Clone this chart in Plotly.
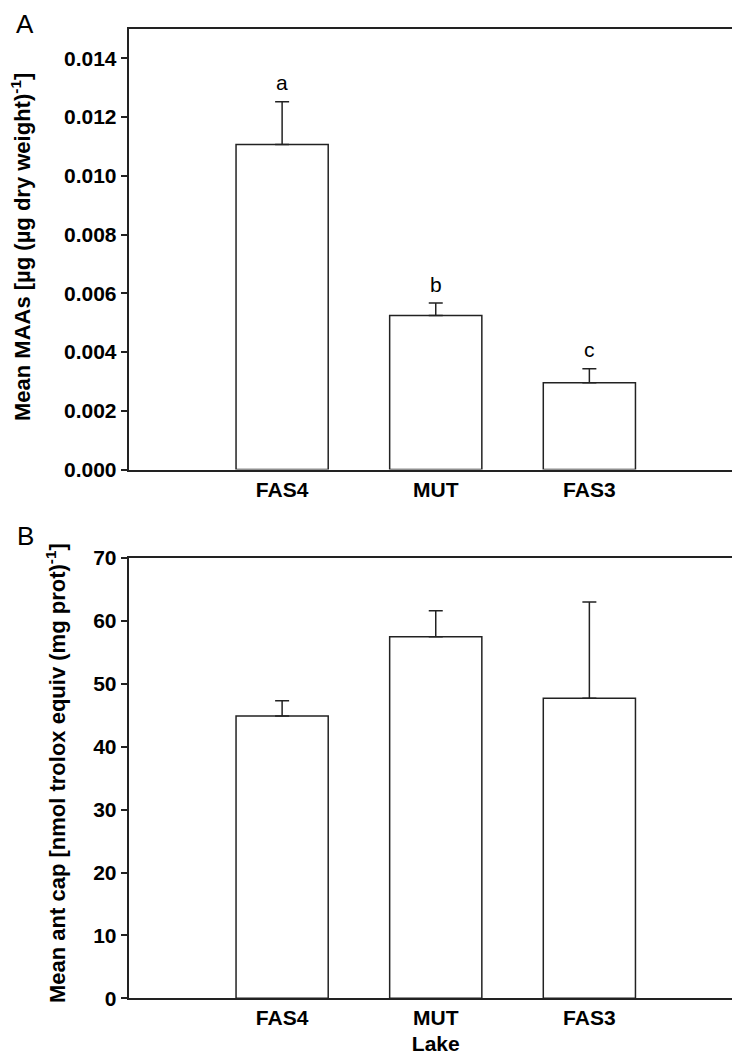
import plotly.graph_objects as go

# ---- data ----
lakes = ["FAS4", "MUT", "FAS3"]
maa_mean = [0.01107, 0.00525, 0.00296]
maa_err = [0.00145, 0.00042, 0.00047]
maa_letters = ["a", "b", "c"]
ant_mean = [44.9, 57.5, 47.7]
ant_err = [2.4, 4.1, 15.3]

W, H = 740, 1057
FONT = "Liberation Sans, Arial, sans-serif"

def px_x(p):
    return p / W

def px_y(p):
    return 1 - p / H

fig = go.Figure()

bar_style = dict(marker=dict(color="white", line=dict(color="#222222", width=1.5)), width=0.6)
err_style = dict(type="data", symmetric=False, color="#222222", thickness=1.5, width=7)

fig.add_trace(go.Bar(x=lakes, y=maa_mean, xaxis="x", yaxis="y",
                     error_y=dict(array=maa_err, arrayminus=[0] * 3, **err_style),
                     showlegend=False, **bar_style))
fig.add_trace(go.Bar(x=lakes, y=ant_mean, xaxis="x2", yaxis="y2",
                     error_y=dict(array=ant_err, arrayminus=[0] * 3, **err_style),
                     showlegend=False, **bar_style))

xdom = [px_x(120.5), px_x(735)]
axis_common = dict(showline=True, mirror=True, linecolor="#222222", linewidth=1.5,
                   showgrid=False, zeroline=False, automargin=False)
tickfont = dict(family=FONT, size=21, color="black", weight="bold")

fig.update_layout(
    width=W, height=H,
    margin=dict(l=0, r=0, t=0, b=0),
    template="none",
    plot_bgcolor="white", paper_bgcolor="white",
    bargap=0.4,
    xaxis=dict(domain=xdom, anchor="y", type="category", range=[-1, 3],
               ticks="", tickfont=tickfont, **axis_common),
    yaxis=dict(domain=[px_y(461.6), px_y(21)], anchor="x", range=[0, 0.015],
               tickvals=[0, 0.002, 0.004, 0.006, 0.008, 0.010, 0.012, 0.014],
               tickformat=".3f", ticks="outside", ticklen=6, tickwidth=1.5,
               tickcolor="#222222", tickfont=tickfont, **axis_common),
    xaxis2=dict(domain=xdom, anchor="y2", type="category", range=[-1, 3],
                ticks="", tickfont=tickfont,
                title=dict(text="Lake", font=dict(family=FONT, size=21, color="black", weight="bold"),
                           standoff=8),
                **axis_common),
    yaxis2=dict(domain=[px_y(990.3), px_y(550)], anchor="x2", range=[0, 70],
                tickvals=[0, 10, 20, 30, 40, 50, 60, 70],
                ticks="outside", ticklen=6, tickwidth=1.5,
                tickcolor="#222222", tickfont=tickfont, **axis_common),
)

annotations = []
# significance letters
for lake, m, e, lt in zip(lakes, maa_mean, maa_err, maa_letters):
    annotations.append(dict(x=lake, y=m + e, xref="x", yref="y", text=lt, showarrow=False,
                            yanchor="middle", yshift=19,
                            font=dict(family=FONT, size=21, color="black")))
# panel labels
annotations.append(dict(x=px_x(17), y=px_y(16), xref="paper", yref="paper", text="A",
                        showarrow=False, xanchor="center", yanchor="middle",
                        font=dict(family=FONT, size=26, color="black")))
annotations.append(dict(x=px_x(17), y=px_y(528), xref="paper", yref="paper", text="B",
                        showarrow=False, xanchor="center", yanchor="middle",
                        font=dict(family=FONT, size=26, color="black")))
# y titles
ytfont = dict(family=FONT, size=22, color="black", weight="bold")
annotations.append(dict(x=px_x(13), y=px_y(239), xref="paper", yref="paper",
                        text="Mean MAAs [µg (µg dry weight)<sup>-1</sup>]",
                        textangle=-90, showarrow=False, xanchor="center", yanchor="middle",
                        font=ytfont))
annotations.append(dict(x=px_x(48), y=px_y(765), xref="paper", yref="paper",
                        text="Mean ant cap [nmol trolox equiv (mg prot)<sup>-1</sup>]",
                        textangle=-90, showarrow=False, xanchor="center", yanchor="middle",
                        font=ytfont))
fig.update_layout(annotations=annotations)

fig.write_html("out.html")
